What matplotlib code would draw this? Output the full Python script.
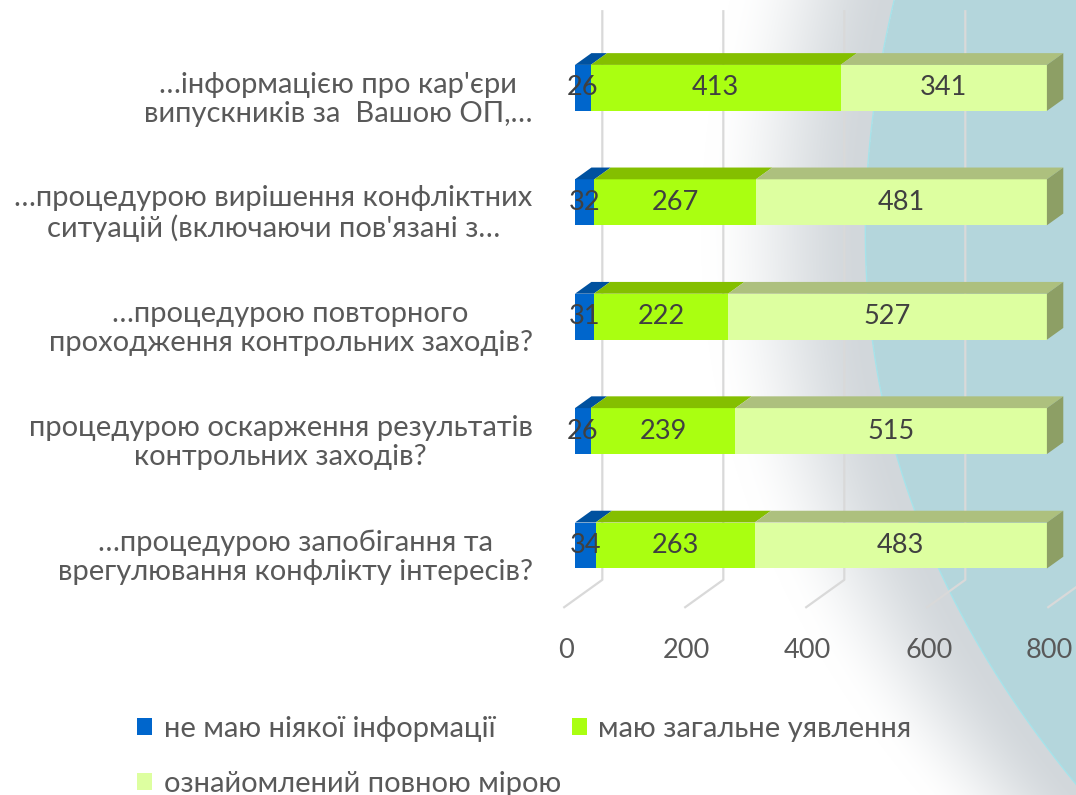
import numpy as np
import matplotlib
matplotlib.use('Agg')
import matplotlib.pyplot as plt
from matplotlib.patches import Polygon, Patch

plt.rcParams['font.family'] = ['Lato', 'DejaVu Sans']

# Survey answers per question (awareness levels)
questions = [
    "…інформацією про кар'єри\nвипускників за  Вашою ОП,…",
    "…процедурою вирішення конфліктних\nситуацій (включаючи пов'язані з…",
    "…процедурою повторного\nпроходження контрольних заходів?",
    "процедурою оскарження результатів\nконтрольних заходів?",
    "…процедурою запобігання та\nврегулювання конфлікту інтересів?",
]
no_info = [26, 32, 31, 26, 34]
general_idea = [413, 267, 222, 239, 263]
fully_aware = [341, 481, 527, 515, 483]
series_names = ['не маю ніякої інформації', 'маю загальне уявлення', 'ознайомлений повною мірою']
x_ticks = [0, 200, 400, 600, 800]

front_colors = ['#0066cc', '#aaff11', '#ddffa0']
top_colors = ['#00519f', '#84bf00', '#adc07e']
side_color = '#8d9f65'

W, H = 1076, 795
fig = plt.figure(figsize=(W / 100, H / 100), dpi=100)

# background: white, a grey shade, then a teal curved panel on the right
bg = fig.add_axes([0, 0, 1, 1], zorder=0)
edge_y = [0, 100, 200, 250, 383, 450, 583, 680, 750, 795]
edge_x = [895, 873, 867, 866, 877, 898, 945, 998, 1050, 1085]
coef = np.polyfit(edge_y, edge_x, 3)
rows = np.arange(H)
xb_row = np.polyval(coef, rows)
yy, xx = np.mgrid[0:H, 0:W]
xb = xb_row[:, None]
s = np.clip((xb - xx) / 165.0, 0, 1)
g = 1 - (3 * s ** 2 - 2 * s ** 3)
white = np.array([1.0, 1.0, 1.0])
grey = np.array([0xd2, 0xd7, 0xdb]) / 255
teal = np.array([0xb4, 0xd6, 0xdc]) / 255
img = white * (1 - g[..., None]) + grey * g[..., None]
img[xx >= xb] = teal
bg.imshow(img, extent=(0, W, H, 0), aspect='auto', interpolation='bilinear')
bg.plot(xb_row, rows, color='#a6e3ea', lw=1.0)
bg.set_xlim(0, W)
bg.set_ylim(H, 0)
bg.axis('off')

# front plane of the bars: values 0..800, one row per question
n = len(questions)
ax = fig.add_axes([575 / W, 1 - 602.7 / H, 484 / W, 572 / H], zorder=1)
ax.set_xlim(0, 800)
ax.set_ylim(n - 0.5, -0.5)
ax.patch.set_alpha(0)
ax.axis('off')

# oblique depth of the whole floor in data units (x right, y up)
depth_x, depth_y = 64.5, 0.245
bar_front, bar_back = 0.3, 0.72
bdx = (bar_back - bar_front) * depth_x
bdy = (bar_back - bar_front) * depth_y
half_h = 0.201
wall_top, floor_back = -0.68, 4.30

# back wall grid lines folding onto the floor
for v in x_ticks:
    xbk = v + (1 - bar_front) * depth_x
    xf = v - bar_front * depth_x
    ax.plot([xbk, xbk, xf], [wall_top, floor_back, floor_back + depth_y],
            color='#d9d9d9', lw=1.6, solid_capstyle='butt', clip_on=False, zorder=1)
    ax.text(xf + 4, floor_back + depth_y + 0.37, str(v), ha='center', va='center',
            fontsize=19.5, color='#595959', clip_on=False)

series = [no_info, general_idea, fully_aware]
for i in range(n):
    left = 0
    yt, yb = i - half_h, i + half_h
    for k, vals in enumerate(series):
        x0, x1 = left, left + vals[i]
        ax.add_patch(Polygon([(x0, yb), (x1, yb), (x1, yt), (x0, yt)], closed=True,
                             facecolor=front_colors[k], edgecolor='none', zorder=3, clip_on=False))
        ax.add_patch(Polygon([(x0, yt), (x1, yt), (x1 + bdx, yt - bdy), (x0 + bdx, yt - bdy)],
                             closed=True, facecolor=top_colors[k], edgecolor='none',
                             zorder=3, clip_on=False))
        ax.text((x0 + x1) / 2, i, str(vals[i]), ha='center', va='center',
                fontsize=19.5, color='#404040', zorder=5, clip_on=False)
        left = x1
    ax.add_patch(Polygon([(left, yb), (left, yt), (left + bdx, yt - bdy), (left + bdx, yb - bdy)],
                         closed=True, facecolor=side_color, edgecolor='none', zorder=3, clip_on=False))
    ax.text(-70, i + 0.1, questions[i], ha='right', va='center', multialignment='center',
            fontsize=21, color='#595959', linespacing=1.15, clip_on=False)

# legend in two columns, filled row by row
handles = [Patch(facecolor=c, edgecolor='none') for c in front_colors]
order = [0, 2, 1]
fig.legend([handles[j] for j in order], [series_names[j] for j in order],
           ncol=2, loc='upper left', bbox_to_anchor=(111 / W, 1 - 690 / H),
           frameon=False, fontsize=21, labelcolor='#595959',
           handlelength=0.52, handleheight=0.52, handletextpad=0.4,
           columnspacing=0.35, labelspacing=0.98)

fig.savefig('out.png', dpi=100)
